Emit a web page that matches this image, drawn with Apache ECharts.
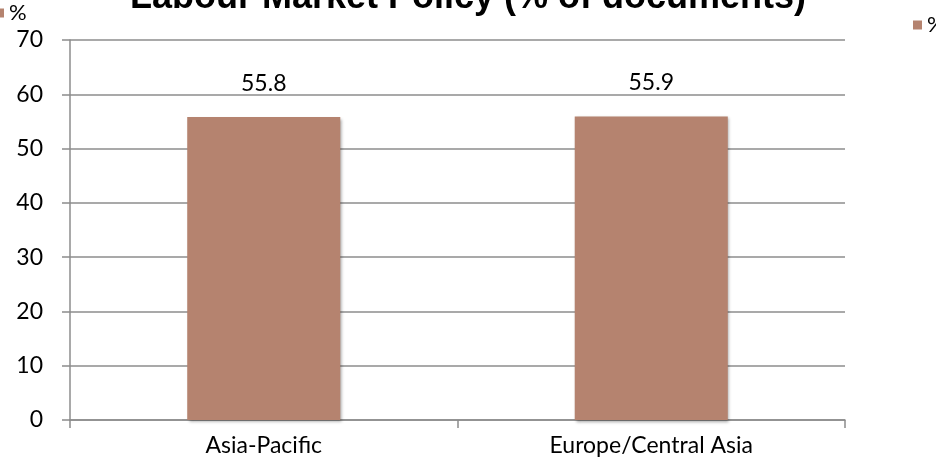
<!DOCTYPE html>
<html>
<head>
<meta charset="utf-8">
<script src="https://cdn.jsdelivr.net/npm/echarts@6/dist/echarts.min.js"></script>
<style>
    html, body { margin: 0; padding: 0; background: #fff; }
    #main { width: 936px; height: 463px; }
</style>
</head>
<body>
<div id="main"></div>
<script>
    // data
    var categories = ['Asia-Pacific', 'Europe/Central Asia'];
    var percentValues = [55.8, 55.9];
    var yTicks = [0, 10, 20, 30, 40, 50, 60, 70];

    var labelFont = 'Lato, "Open Sans", sans-serif';
    var myChart = echarts.init(document.getElementById('main'));

    var option = {
        animation: false,
        title: {
            text: 'Labour Market Policy (% of documents)',
            left: 'center',
            top: -20,
            padding: 0,
            textStyle: {
                fontFamily: '"Liberation Sans", Arial, sans-serif',
                fontWeight: 'bold',
                fontSize: 36,
                color: '#000'
            }
        },
        // two legends, one cut off on the left, one at the right
        legend: [
            {
                left: -5, top: 2, padding: 0,
                icon: 'rect',
                itemWidth: 9, itemHeight: 9, itemGap: 5,
                data: ['%'],
                textStyle: { fontFamily: labelFont, fontSize: 22, color: '#000' }
            },
            {
                left: 913, top: 14, padding: 0,
                icon: 'rect',
                itemWidth: 9, itemHeight: 9, itemGap: 5,
                data: ['%'],
                textStyle: { fontFamily: labelFont, fontSize: 22, color: '#000' }
            }
        ],
        grid: {
            left: 70,
            right: 91,
            top: 40,
            bottom: 43,
            containLabel: false
        },
        xAxis: {
            type: 'category',
            data: categories,
            axisLine: { lineStyle: { color: '#8c8c8c', width: 1.5 } },
            axisTick: { show: true, length: 8, lineStyle: { color: '#8c8c8c', width: 1.5 } },
            axisLabel: {
                margin: 14,
                fontFamily: labelFont,
                fontSize: 23,
                color: '#000'
            }
        },
        yAxis: {
            type: 'value',
            min: yTicks[0],
            max: yTicks[yTicks.length - 1],
            interval: 10,
            axisLine: { show: true, lineStyle: { color: '#8c8c8c', width: 1.5 } },
            axisTick: { show: true, length: 8, lineStyle: { color: '#8c8c8c', width: 1.5 } },
            splitLine: { lineStyle: { color: '#8c8c8c', width: 1.5 } },
            axisLabel: {
                margin: 27,
                fontFamily: labelFont,
                fontSize: 23,
                color: '#000'
            }
        },
        series: [{
            name: '%',
            type: 'bar',
            data: percentValues,
            barWidth: '39.5%',
            itemStyle: {
                color: '#b5836f',
                shadowColor: 'rgba(0,0,0,0.35)',
                shadowBlur: 3,
                shadowOffsetX: 1.5,
                shadowOffsetY: 1.5
            },
            label: {
                show: true,
                position: 'top',
                distance: 22,
                fontFamily: labelFont,
                fontSize: 23,
                color: '#000',
                formatter: function (p) { return p.value.toFixed(1); }
            }
        }]
    };

    myChart.setOption(option);
</script>
</body>
</html>
